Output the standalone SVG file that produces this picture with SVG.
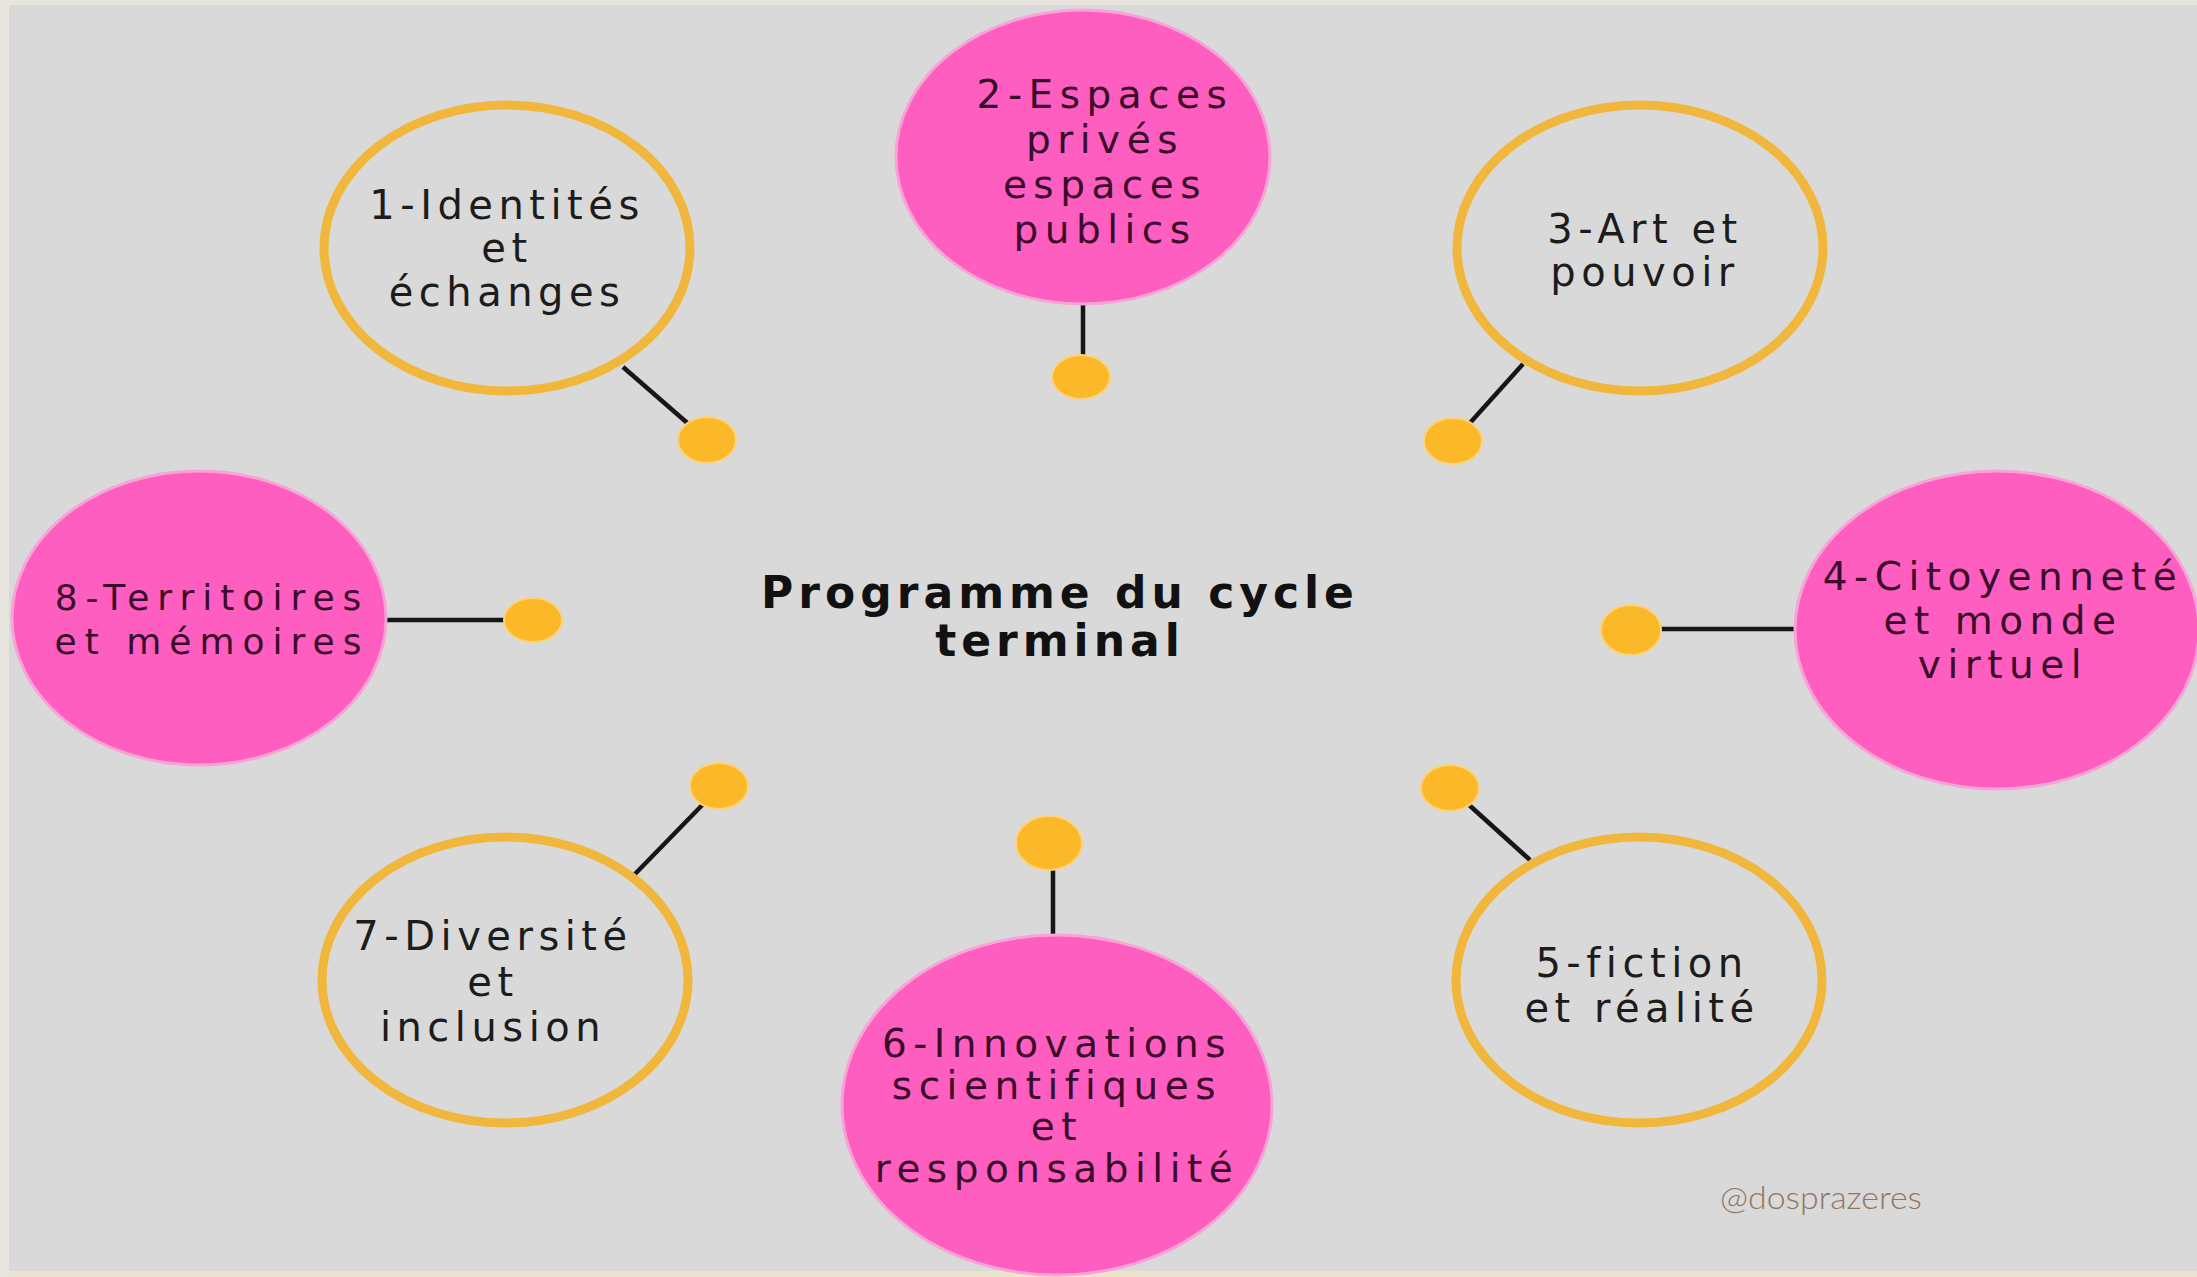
<svg xmlns="http://www.w3.org/2000/svg" width="2197" height="1277" viewBox="0 0 2197 1277">
<style>
.ring{fill:none;stroke:#f1b73c;stroke-width:9}
.pink{fill:#fd5ebf;stroke:#f8a3d8;stroke-width:3}
.dot{fill:#fbb829;stroke:#fcd27a;stroke-width:2}
.con{stroke:#161616;stroke-width:4.5;stroke-linecap:butt}
.rt{font-family:"DejaVu Sans","Verdana",sans-serif;font-size:40px;letter-spacing:5.5px;fill:#1c1c1c;text-anchor:middle}
.pt{font-family:"DejaVu Sans","Verdana",sans-serif;font-size:39px;letter-spacing:6.5px;fill:#3a0b2a;text-anchor:middle}
.p8{font-size:36px;letter-spacing:8px}
.ct{font-family:"DejaVu Sans","Verdana",sans-serif;font-weight:bold;font-size:44px;letter-spacing:5px;fill:#111111;text-anchor:middle}
.wm{font-family:"Lato","Open Sans",sans-serif;font-weight:300;font-size:32px;fill:#8f7563}
</style>
<rect x="0" y="0" width="2197" height="1277" fill="#e8e5df"/>
<rect x="9" y="5" width="2188" height="1266" fill="#d9d9d9"/>
<rect x="9" y="1271" width="2188" height="6" fill="#ece4cc"/>

<g id="connectors">
<line class="con" x1="623" y1="367" x2="700" y2="434"/>
<line class="con" x1="1083" y1="304" x2="1083" y2="360"/>
<line class="con" x1="1523" y1="364" x2="1460" y2="434"/>
<line class="con" x1="1655" y1="629" x2="1795" y2="629"/>
<line class="con" x1="1458" y1="795" x2="1530" y2="860"/>
<line class="con" x1="1053" y1="860" x2="1053" y2="936"/>
<line class="con" x1="712" y1="795" x2="635" y2="874"/>
<line class="con" x1="386" y1="620" x2="515" y2="620"/>
<ellipse class="dot" cx="707" cy="440" rx="29" ry="23"/>
<ellipse class="dot" cx="1081" cy="377" rx="29" ry="22"/>
<ellipse class="dot" cx="1453" cy="441" rx="29" ry="23"/>
<ellipse class="dot" cx="1631" cy="630" rx="30" ry="25"/>
<ellipse class="dot" cx="1450" cy="788" rx="29" ry="23"/>
<ellipse class="dot" cx="1049" cy="843" rx="33" ry="27"/>
<ellipse class="dot" cx="719" cy="786" rx="29" ry="23"/>
<ellipse class="dot" cx="533" cy="620" rx="29" ry="22"/>
</g>

<g id="node1">
<ellipse class="ring" cx="507" cy="248" rx="183" ry="143"/>
<text class="rt" x="507" y="219">1-Identités</text>
<text class="rt" x="507" y="262">et</text>
<text class="rt" x="507" y="306">échanges</text>
</g>

<g id="node2">
<ellipse class="pink" cx="1083" cy="157" rx="187" ry="147"/>
<text class="pt" x="1105" y="108">2-Espaces</text>
<text class="pt" x="1105" y="153">privés</text>
<text class="pt" x="1105" y="198">espaces</text>
<text class="pt" x="1105" y="243">publics</text>
</g>

<g id="node3">
<ellipse class="ring" cx="1640" cy="248" rx="183" ry="143"/>
<text class="rt" x="1645" y="243">3-Art et</text>
<text class="rt" x="1645" y="286">pouvoir</text>
</g>

<g id="node4">
<ellipse class="pink" cx="1997" cy="630" rx="202" ry="159"/>
<text class="pt" x="2003" y="590">4-Citoyenneté</text>
<text class="pt" x="2003" y="634">et monde</text>
<text class="pt" x="2003" y="678">virtuel</text>
</g>

<g id="node5">
<ellipse class="ring" cx="1639" cy="980" rx="183" ry="143"/>
<text class="rt" x="1642" y="977">5-fiction</text>
<text class="rt" x="1642" y="1022">et réalité</text>
</g>

<g id="node6">
<ellipse class="pink" cx="1057" cy="1105" rx="215" ry="170"/>
<text class="pt" x="1057" y="1057">6-Innovations</text>
<text class="pt" x="1057" y="1099">scientifiques</text>
<text class="pt" x="1057" y="1140">et</text>
<text class="pt" x="1057" y="1182">responsabilité</text>
</g>

<g id="node7">
<ellipse class="ring" cx="505" cy="980" rx="183" ry="143"/>
<text class="rt" x="493" y="950">7-Diversité</text>
<text class="rt" x="493" y="996">et</text>
<text class="rt" x="493" y="1041">inclusion</text>
</g>

<g id="node8">
<ellipse class="pink" cx="199" cy="618" rx="187" ry="147"/>
<text class="pt p8" x="212" y="610">8-Territoires</text>
<text class="pt p8" x="212" y="654">et mémoires</text>
</g>

<g id="center">
<text class="ct" x="1060" y="608">Programme du cycle</text>
<text class="ct" x="1060" y="656">terminal</text>
</g>

<g id="watermark">
<text class="wm" x="1720" y="1209" textLength="202" lengthAdjust="spacingAndGlyphs">@dosprazeres</text>
</g>
</svg>
